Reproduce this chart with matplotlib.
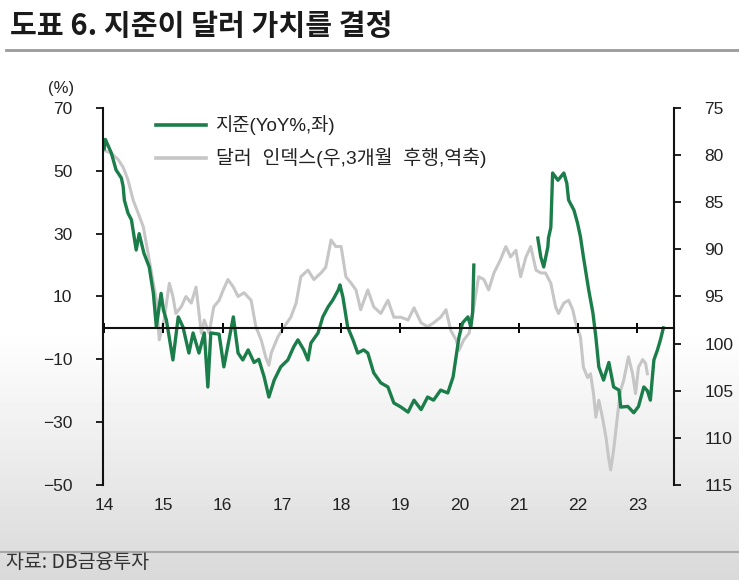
import matplotlib
matplotlib.use('Agg')
import matplotlib.pyplot as plt
import matplotlib.transforms as mtransforms
import numpy as np

plt.rcParams['font.family'] = ['Liberation Sans', 'Noto Sans CJK KR']

# reserves YoY % (left axis), decimal years
res_x = [2014.00, 2014.02, 2014.12, 2014.20, 2014.29, 2014.32, 2014.34, 2014.40, 2014.46, 2014.54,
         2014.59, 2014.67, 2014.76, 2014.83, 2014.88, 2014.96, 2015.00, 2015.05, 2015.16, 2015.25,
         2015.33, 2015.43, 2015.50, 2015.60, 2015.69, 2015.75, 2015.80, 2015.94, 2016.02, 2016.18,
         2016.26, 2016.34, 2016.43, 2016.53, 2016.61, 2016.70, 2016.78, 2016.87, 2016.98, 2017.10,
         2017.20, 2017.27, 2017.37, 2017.44, 2017.49, 2017.61, 2017.69, 2017.78, 2017.86, 2017.95,
         2017.98, 2018.03, 2018.11, 2018.20, 2018.28, 2018.38, 2018.45, 2018.55, 2018.67, 2018.79,
         2018.89, 2019.01, 2019.13, 2019.23, 2019.35, 2019.46, 2019.56, 2019.68, 2019.80, 2019.89,
         2019.94, 2019.99, 2020.05, 2020.14, 2020.19, 2020.22, 2020.24, 2020.80, 2021.32, 2021.37,
         2021.42, 2021.49, 2021.50, 2021.54, 2021.57, 2021.66, 2021.76, 2021.81, 2021.84, 2021.93,
         2021.99, 2022.04, 2022.09, 2022.18, 2022.25, 2022.30, 2022.35, 2022.43, 2022.52, 2022.60,
         2022.69, 2022.72, 2022.84, 2022.94, 2023.02, 2023.11, 2023.17, 2023.22, 2023.28, 2023.34,
         2023.39, 2023.44]
res_y = [57, 60, 55.7, 50.3, 47.7, 45, 40.7, 36.6, 34.4, 24.8,
         30, 23.8, 19.4, 11, 0.3, 11, 5.7, 2.5, -10.2, 3.5,
         0.3, -8, -1.6, -8, -1.6, -18.8, -1.6, -2, -12.4, 3.5,
         -8, -10.2, -7, -11, -10, -15.6, -22, -16.6, -12.4, -10.2,
         -6, -3.8, -7, -10.2, -4.8, -1.6, 3.5, 6.7, 8.9, 12,
         13.7, 9.8, 0.3, -3.8, -8, -7, -8, -14.3, -17.5, -18.8,
         -23.9, -25.2, -26.8, -23, -26, -22, -23, -19.8, -20.7, -15.6,
         -9.2, -2.9, 1.6, 3.5, 0.3, 5, 20, np.nan, 28.6, 22.6,
         19.4, 25.8, 28.6, 32, 49.3, 47, 49.3, 46, 40.7, 37.5,
         33.4, 29, 22.6, 12, 4.8, -2.9, -12.4, -16.6, -11, -18.8,
         -19.8, -25.2, -25, -27, -25, -18.8, -20, -23, -10.2, -7,
         -3.8, 0]

# dollar index, 3-month lead (right axis, inverted)
dxy_x = [2014.00, 2014.12, 2014.24, 2014.32, 2014.40, 2014.49, 2014.57, 2014.66, 2014.74, 2014.83,
         2014.88, 2014.93, 2015.01, 2015.10, 2015.16, 2015.21, 2015.30, 2015.38, 2015.47, 2015.55,
         2015.64, 2015.69, 2015.77, 2015.85, 2015.94, 2016.01, 2016.09, 2016.18, 2016.26, 2016.36,
         2016.48, 2016.56, 2016.65, 2016.73, 2016.78, 2016.82, 2016.93, 2017.04, 2017.15, 2017.24,
         2017.32, 2017.44, 2017.54, 2017.66, 2017.74, 2017.83, 2017.91, 2018.00, 2018.08, 2018.17,
         2018.25, 2018.33, 2018.45, 2018.55, 2018.67, 2018.79, 2018.89, 2019.01, 2019.13, 2019.23,
         2019.35, 2019.46, 2019.56, 2019.68, 2019.77, 2019.85, 2019.94, 2019.99, 2020.07, 2020.16,
         2020.24, 2020.32, 2020.41, 2020.49, 2020.58, 2020.69, 2020.78, 2020.86, 2020.95, 2021.03,
         2021.12, 2021.20, 2021.29, 2021.37, 2021.45, 2021.54, 2021.62, 2021.67, 2021.76, 2021.84,
         2021.91, 2021.96, 2022.04, 2022.09, 2022.16, 2022.21, 2022.26, 2022.30, 2022.35, 2022.41,
         2022.47, 2022.52, 2022.55, 2022.60, 2022.67, 2022.72, 2022.77, 2022.85, 2022.92, 2022.97,
         2023.02, 2023.09, 2023.14, 2023.17]
dxy_y = [79.5, 79.8, 80.5, 81.3, 82.6, 84.8, 86.1, 87.6, 90.4, 93.6,
         95.4, 99.6, 97.5, 93.6, 95, 96.8, 96.1, 95, 95.7, 94,
         98.9, 97.5, 98.9, 96.1, 95.4, 94.3, 93.2, 94, 95, 94.6,
         95.4, 98.2, 99.6, 101.5, 102.3, 101, 99.3, 98.2, 97.2, 95.7,
         92.9, 92.2, 93.2, 92.5, 91.9, 89, 89.7, 89.7, 92.9, 93.6,
         94.3, 96.4, 94.3, 96.1, 96.8, 95.4, 97.2, 97.2, 97.5, 96.2,
         97.8, 98.2, 97.8, 97.2, 96.4, 98.6, 99.6, 100.7, 99.6, 98.9,
         96.1, 92.9, 93.2, 94.3, 92.5, 91.1, 89.7, 90.8, 90.1, 92.9,
         90.8, 89.7, 92.2, 92.5, 92.5, 93.6, 96.1, 96.8, 95.7, 95.4,
         96.4, 97.8, 99.3, 102.5, 103.6, 103.2, 105.3, 107.8, 106, 107.8,
         109.9, 112.3, 113.4, 111.3, 107.4, 104.9, 103.9, 101.4, 103.2, 105.3,
         102.5, 101.7, 102.1, 103.2]

years = list(range(2014, 2024))
year_labels = [str(y)[2:] for y in years]
left_ticks = [-50, -30, -10, 10, 30, 50, 70]
right_ticks = [75, 80, 85, 90, 95, 100, 105, 110, 115]

green = '#1b7d4a'
grey = '#c6c6c6'

fig = plt.figure(figsize=(7.39, 5.80), dpi=100)

# soft grey fade toward the bottom, like the screenshot
bg = fig.add_axes([0, 0, 1, 1], zorder=-10)
grad = np.ones((580, 1))
rows = np.arange(580)
grad[:, 0] = np.where(rows < 330, 1.0, 1.0 - 0.15 * np.clip((rows - 330) / 250, 0, 1))
bg.imshow(grad, aspect='auto', cmap='gray', vmin=0, vmax=1, extent=[0, 1, 0, 1], origin='upper')
bg.set_axis_off()

ax = fig.add_axes([0.1394, 0.1638, 0.7727, 0.650])
ax2 = ax.twinx()
ax.set_zorder(ax2.get_zorder() + 1)
ax.patch.set_visible(False)

ax2.plot(dxy_x, dxy_y, color=grey, lw=2.2)
ax.plot(res_x, res_y, color=green, lw=2.4)

ax.set_xlim(2013.98, 2023.62)
ax.set_ylim(-50, 70)
ax2.set_ylim(115, 75)

ax.set_yticks(left_ticks)
ax2.set_yticks(right_ticks)
ax.set_xticks(years)
ax.tick_params(axis='x', direction='inout', length=7, width=1.4, labelbottom=False)
ax.tick_params(axis='y', direction='out', length=5, width=1.4, labelsize=12.5, colors='#222222', pad=17)
ax2.tick_params(axis='y', direction='out', length=5, width=1.4, labelsize=12.5, colors='#222222', pad=17)

for s in ['top', 'right']:
    ax.spines[s].set_visible(False)
for s in ['top', 'bottom', 'left']:
    ax2.spines[s].set_visible(False)
ax.spines['bottom'].set_position(('data', 0))
for s in [ax.spines['left'], ax.spines['bottom'], ax2.spines['right']]:
    s.set_linewidth(1.5)
    s.set_color('#111111')

trans = mtransforms.blended_transform_factory(ax.transData, ax.transAxes)
for y, lab in zip(years, year_labels):
    ax.text(y, -0.055, lab, transform=trans, ha='center', va='center', fontsize=12.5, color='#222222')

# legend drawn by hand to sit like the original
ax.plot([0.092, 0.18], [0.955, 0.955], transform=ax.transAxes, color=green, lw=2.6, clip_on=False)
ax.plot([0.092, 0.18], [0.868, 0.868], transform=ax.transAxes, color=grey, lw=2.6, clip_on=False)
ax.text(0.197, 0.955, '지준(YoY%,좌)', transform=ax.transAxes, va='center', fontsize=13.5, color='#222222')
ax.text(0.197, 0.868, '달러  인덱스(우,3개월  후행,역축)', transform=ax.transAxes, va='center', fontsize=14,
        color='#222222')

fig.text(0.065, 0.848, '(%)', ha='left', va='center', fontsize=12, color='#222222')

fig.text(0.014, 0.955, '도표 6. 지준이 달러 가치를 결정', ha='left', va='center', fontsize=21,
         fontweight='bold', color='#1a1a1a', family=['Noto Sans CJK KR', 'DejaVu Sans'])
fig.add_artist(plt.Line2D([0.008, 1.0], [0.913, 0.913], color='#9a9a9a', lw=2))
fig.add_artist(plt.Line2D([0.0, 1.0], [0.048, 0.048], color='#a8a8a8', lw=1.5))
fig.text(0.008, 0.03, '자료: DB금융투자', ha='left', va='center', fontsize=14, color='#333333',
         family=['Noto Sans CJK KR', 'DejaVu Sans'])

fig.savefig('out.png', dpi=100)
